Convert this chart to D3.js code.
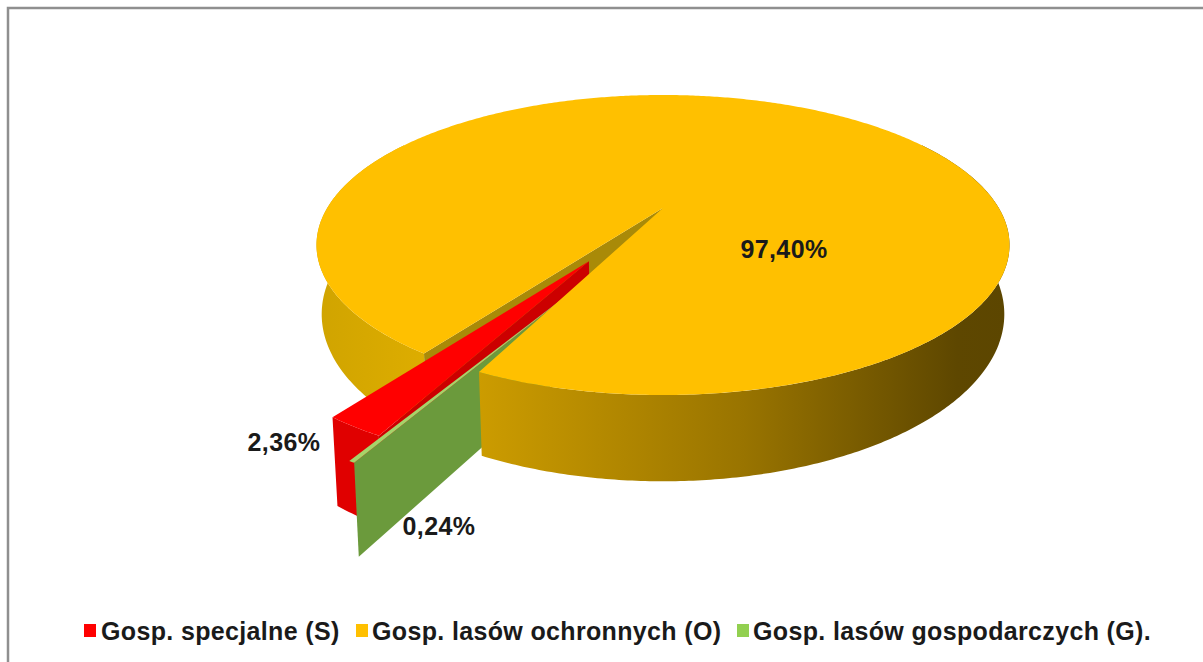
<!DOCTYPE html>
<html><head><meta charset="utf-8">
<script src="https://cdn.jsdelivr.net/npm/d3@7/dist/d3.min.js"></script>
<style>html,body{margin:0;padding:0;background:#fff}svg{display:block}text{font-family:"Liberation Sans",Arial,sans-serif;font-weight:bold;fill:#1a1a1a}</style>
</head><body>
<svg id="c" width="1203" height="662"></svg>
<script>
const categories = ["Gosp. specjalne (S)", "Gosp. lasów ochronnych (O)", "Gosp. lasów gospodarczych (G)."];
const values = [2.36, 97.40, 0.24];
const valueLabels = ["2,36%", "97,40%", "0,24%"];
const sliceColors = ["#ff0000", "#ffc000", "#92d050"];

const W = 1203, H = 662;
const svg = d3.select("#c");
const defs = svg.append("defs");
const rad = d3.scaleLinear().domain([0,360]).range([0,2*Math.PI]);

// perspective projection of the unit disc
const cx = 663, cy = 208, a = 335.8, b = 140.9, k = 0.2466, depth = 65, shrink = 0.985;
function P(u, v, low) {
  const w = 1 - k*v, s = low ? shrink : 1;
  return [cx + s*a*u/w, cy + b*v/w + (low ? depth/w : 0)];
}
const pt = (ang, r, ox, oy, low) => P(ox + r*Math.sin(ang), oy - r*Math.cos(ang), low);
const poly = p => d3.line()(p) + "Z";

const arcs = d3.pie().sort(null).value(d => d)
  .startAngle(rad(206.06)).endAngle(rad(206.06+360))(values);

function rim(a0, a1, r, ox, oy, low) {
  const n = Math.max(2, Math.ceil(Math.abs(a1-a0)/0.01));
  return d3.range(n+1).map(i => pt(a0+(a1-a0)*i/n, r, ox, oy, low));
}
function exploded(d, dist, r) {
  const m = (d.startAngle+d.endAngle)/2;
  return {ox: dist*Math.sin(m), oy: -dist*Math.cos(m), r};
}
function grad(id, x1, x2, stops) {
  const g = defs.append("linearGradient").attr("id", id).attr("gradientUnits","userSpaceOnUse")
    .attr("x1",x1).attr("x2",x2).attr("y1",0).attr("y2",0);
  stops.forEach(s => g.append("stop").attr("offset",s[0]).attr("stop-color",s[1]));
}
grad("goldL", 317, 440, [[0,"#d0a400"],[1,"#dfae00"]]);
grad("goldR", 478, 1010, [[0,"#cc9c00"],[0.5,"#997400"],[0.9,"#5e4700"],[1,"#5c4600"]]);

const [red, gold, green] = arcs;
const add = (d, fill) => svg.append("path").attr("d", d).attr("fill", fill);

// frame
svg.append("path").attr("d", `M8 ${H}V8H${W}`).attr("fill","none").attr("stroke","#8f8f8f").attr("stroke-width",2.5);

// gold far wall, left of the gap
add(poly([...rim(gold.startAngle, rad(300), 1,0,0,false), ...rim(rad(300), gold.startAngle, 1,0,0,true)]), "url(#goldL)");
// gold inner wall seen through the gap
add(poly([P(0,0,false), pt(gold.startAngle,1,0,0,false), pt(gold.startAngle,1,0,0,true), P(0,0,true)]), "#a98a08");

// red slice
const e = exploded(red, 0.40, 0.905);
const ra0 = red.startAngle + rad(0.4), ra1 = red.endAngle + rad(0.4);
add(poly([...rim(ra0, ra1, e.r, e.ox, e.oy, false), ...rim(ra1, ra0, e.r, e.ox, e.oy, true)]), "#e00000");
add(poly([P(e.ox,e.oy,false), pt(ra0,e.r,e.ox,e.oy,false), pt(ra0,e.r,e.ox,e.oy,true), P(e.ox,e.oy,true)]), "#cc0000");
add(poly([P(e.ox,e.oy,false), ...rim(ra0, ra1, e.r, e.ox, e.oy, false)]), sliceColors[0]);

// green slice, turned slightly to follow the photographed perspective
const gr = 0.863, gx = -0.223, gy = 0.493, gTurn = rad(3.4);
const ga0 = green.startAngle + gTurn, ga1 = green.endAngle + gTurn;
add(poly([P(gx,gy,false), pt(ga0,gr,gx,gy,false), pt(ga0,gr,gx,gy,true), P(gx,gy,true)]), "#6b9a3c");
add(poly([P(gx,gy,false), ...rim(ga0, ga1, gr, gx, gy, false)]), "#a5d46a");

// gold front wall and top
add(poly([...rim(rad(60), gold.endAngle-2*Math.PI, 1,0,0,false), ...rim(gold.endAngle-2*Math.PI, rad(60), 1,0,0,true)]), "url(#goldR)");
add(poly([P(0,0,false), ...rim(gold.startAngle, gold.endAngle, 1,0,0,false)]), sliceColors[1]);

// value labels
const labelPos = [[284,442],[784,249],[439,526]];
svg.selectAll("text.v").data(valueLabels).join("text").attr("class","v")
  .attr("x",(d,i)=>labelPos[i][0]).attr("y",(d,i)=>labelPos[i][1]).attr("dy","0.36em")
  .attr("text-anchor","middle").attr("font-size",25).attr("letter-spacing",0.4).text(d=>d);

// legend
const legX = [101, 372, 753], legSw = [84, 356, 737];
const leg = svg.selectAll("g.l").data(categories).join("g").attr("class","l");
leg.append("rect").attr("x",(d,i)=>legSw[i]).attr("y",624).attr("width",12).attr("height",13).attr("fill",(d,i)=>sliceColors[i]);
leg.append("text").attr("x",(d,i)=>legX[i]).attr("y",631).attr("dy","0.36em").attr("font-size",25).attr("letter-spacing",0.35).text(d=>d);
</script>
</body></html>
